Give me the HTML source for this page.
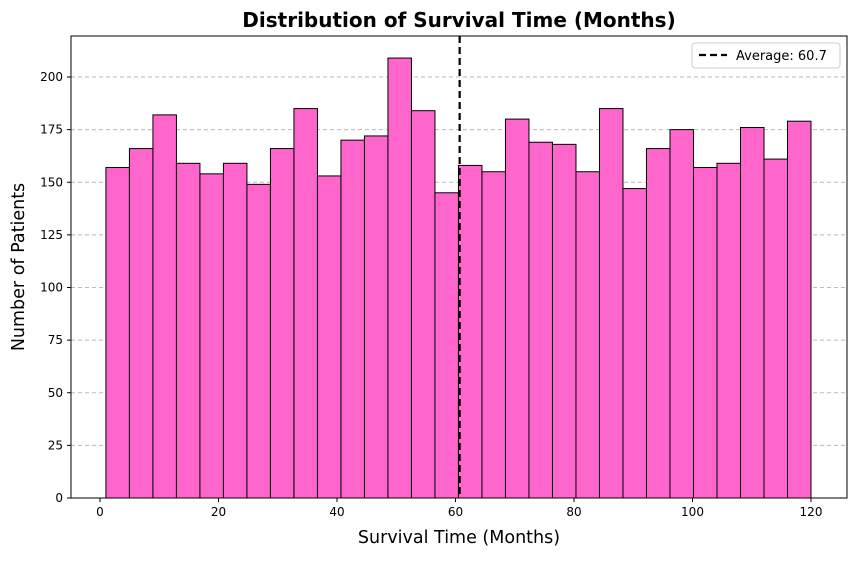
<!DOCTYPE html>
<html><head><meta charset="utf-8"><style>
body{margin:0;background:#fff;font-family:"Liberation Sans",sans-serif;}
svg text{font-family:"DejaVu Sans","Liberation Sans",sans-serif;}
</style></head><body>
<svg id="chart" width="855" height="556"></svg>
<script>
const counts=[157,166,182,159,154,159,149,166,185,153,170,172,209,184,145,158,155,180,169,168,155,185,147,166,175,157,159,176,161,179];
const binStart=1, binEnd=120;
const yTicks=[0,25,50,75,100,125,150,175,200];
const xTicks=[0,20,40,60,80,100,120];
const avg=60.7;
const L=71,R=847,T=36,B=498;
const xs=v=>100+(v-0)*(811-100)/120;
const ys=v=>498-v*(498-77)/200;
const NS='http://www.w3.org/2000/svg';
const svg=document.getElementById('chart');
function mk(t,a,p){const e=document.createElementNS(NS,t);for(const k in a)e.setAttribute(k,a[k]);(p||svg).appendChild(e);return e;}
yTicks.forEach(v=>{const g=mk('line',{x1:L,x2:R,y1:ys(v),y2:ys(v),stroke:'#bbbbbb','stroke-dasharray':'4,3','stroke-width':0.9});

});
const w=(binEnd-binStart)/counts.length;
counts.forEach((c,i)=>{const x0=xs(binStart+i*w),x1=xs(binStart+(i+1)*w);
const r=mk('rect',{x:x0,y:ys(c),width:x1-x0,height:ys(0)-ys(c),fill:'#ff66cc',stroke:'#000','stroke-width':1});

});
const al=mk('line',{x1:xs(avg),x2:xs(avg),y1:T,y2:B,stroke:'#000','stroke-width':2.2,'stroke-dasharray':'7,4'});


const fr=mk('rect',{x:L,y:T,width:R-L,height:B-T,fill:'none',stroke:'#000','stroke-width':1});


yTicks.forEach(v=>{mk('line',{x1:L-4,x2:L,y1:ys(v),y2:ys(v),stroke:'#000'});
const t=mk('text',{x:L-8,y:ys(v)+4,'text-anchor':'end','font-size':12});t.textContent=v;

});
xTicks.forEach(v=>{mk('line',{x1:xs(v),x2:xs(v),y1:B,y2:B+4,stroke:'#000'});
const t=mk('text',{x:xs(v),y:B+18,'text-anchor':'middle','font-size':12});t.textContent=v;

});
const ti=mk('text',{x:459,y:27,'text-anchor':'middle','font-size':20,'font-weight':'bold'});ti.textContent='Distribution of Survival Time (Months)';


const xt=mk('text',{x:459,y:543,'text-anchor':'middle','font-size':17.5});xt.textContent='Survival Time (Months)';


const yt=mk('text',{x:24,y:267,'text-anchor':'middle','font-size':17.5,transform:'rotate(-90 24 267)'});yt.textContent='Number of Patients';


const lg=mk('g',{});


mk('rect',{x:692,y:43,width:148,height:25,rx:3,fill:'#fff',stroke:'#ccc'},lg);
mk('line',{x1:699,x2:727,y1:55,y2:55,stroke:'#000','stroke-width':2.2,'stroke-dasharray':'7,4'},lg);
const lt=mk('text',{x:736,y:60,'font-size':13},lg);lt.textContent='Average: '+avg;


</script></body></html>
